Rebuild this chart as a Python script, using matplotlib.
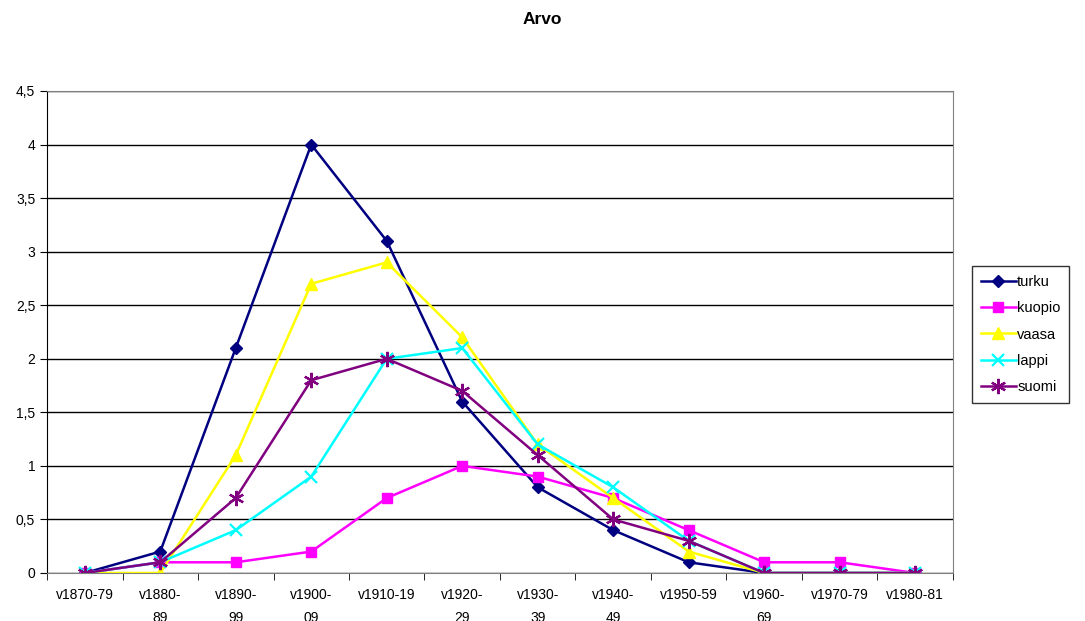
import matplotlib.pyplot as plt
from matplotlib.ticker import FuncFormatter, FixedLocator

plt.rcParams['font.family'] = ['Liberation Sans', 'DejaVu Sans']

categories = ['v1870-79', 'v1880-\n89', 'v1890-\n99', 'v1900-\n09', 'v1910-19', 'v1920-\n29',
              'v1930-\n39', 'v1940-\n49', 'v1950-59', 'v1960-\n69', 'v1970-79', 'v1980-81']
turku = [0, 0.2, 2.1, 4.0, 3.1, 1.6, 0.8, 0.4, 0.1, 0, 0, 0]
kuopio = [0, 0.1, 0.1, 0.2, 0.7, 1.0, 0.9, 0.7, 0.4, 0.1, 0.1, 0]
vaasa = [0, 0, 1.1, 2.7, 2.9, 2.2, 1.2, 0.7, 0.2, 0, 0, 0]
lappi = [0, 0.1, 0.4, 0.9, 2.0, 2.1, 1.2, 0.8, 0.3, 0, 0, 0]
suomi = [0, 0.1, 0.7, 1.8, 2.0, 1.7, 1.1, 0.5, 0.3, 0, 0, 0]

fig = plt.figure(figsize=(10.85, 6.21), dpi=100)
ax = fig.add_axes([47 / 1085, 1 - 573 / 621, 906 / 1085, 482 / 621])

x = list(range(len(categories)))
ax.plot(x, turku, color='#000080', marker='D', markersize=6.5, lw=1.8, label='turku')
ax.plot(x, kuopio, color='#FF00FF', marker='s', markersize=7.5, lw=1.8, label='kuopio')
ax.plot(x, vaasa, color='#FFFF00', marker='^', markersize=9, lw=1.8, label='vaasa')
ax.plot(x, lappi, color='#00FFFF', marker='x', markersize=9, mew=1.6, lw=1.8, label='lappi')
ax.plot(x, suomi, color='#800080', marker=(6, 2, 0), markersize=11, mew=1.6, lw=1.8, label='suomi')

ax.set_xlim(-0.5, 11.5)
ax.set_ylim(0, 4.5)
ax.set_yticks([0, 0.5, 1, 1.5, 2, 2.5, 3, 3.5, 4, 4.5])
ax.yaxis.set_major_formatter(FuncFormatter(lambda v, p: ('%g' % v).replace('.', ',')))
ax.grid(axis='y', color='black', lw=1)
ax.set_axisbelow(True)

ax.set_xticks(x)
ax.set_xticklabels(categories, fontsize=10, linespacing=1.75, va='top')
ax.tick_params(axis='x', length=0, pad=11)
ax.xaxis.set_minor_locator(FixedLocator([i - 0.5 for i in range(13)]))
ax.tick_params(axis='x', which='minor', length=5, direction='out')
ax.tick_params(axis='y', labelsize=10, length=5, direction='out')

for s in ['top', 'right']:
    ax.spines[s].set_color('#808080')
ax.spines['left'].set_color('black')
ax.spines['bottom'].set_color('#808080')

fig.suptitle('Arvo', x=0.5, y=1 - 12 / 621, va='top', fontsize=12.5, fontweight='bold')

leg = fig.legend(loc='upper left', bbox_to_anchor=(972 / 1085, 1 - 266 / 621),
                 fontsize=10.5, frameon=True, fancybox=False, edgecolor='black',
                 handlelength=2.4, handletextpad=0.1, borderpad=0.6, labelspacing=0.85,
                 borderaxespad=0)
leg.get_frame().set_linewidth(1)

plt.savefig('out.png', dpi=100)
